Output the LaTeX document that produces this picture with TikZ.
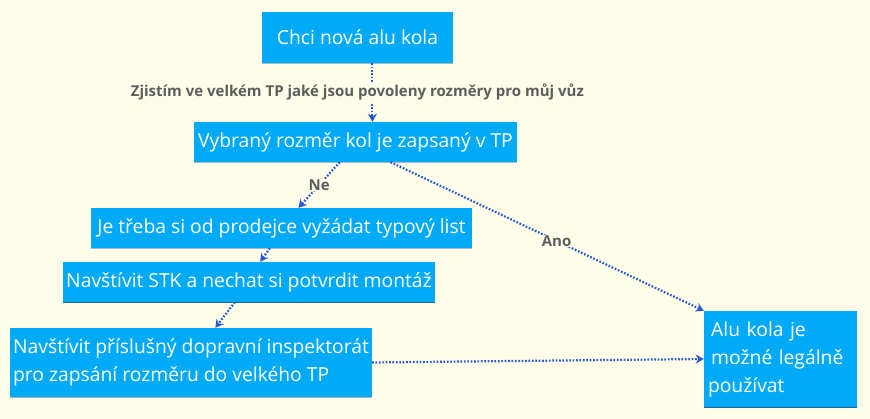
\documentclass[tikz,border=0pt]{standalone}
\usepackage{fontspec}
\setmainfont{Open Sans}
\usetikzlibrary{arrows.meta}
\definecolor{bgyellow}{HTML}{FDFDE9}
\definecolor{boxblue}{HTML}{00AAF7}
\definecolor{arrowblue}{HTML}{2A5BD7}
\definecolor{labelgray}{HTML}{5E5E5E}
\definecolor{edgelight}{HTML}{A0BCC8}
\definecolor{edgedark}{HTML}{1D6A8C}

\begin{document}
\begin{tikzpicture}[x=1pt, y=1pt, >={Stealth[length=8pt, width=9pt, inset=2.5pt]},
  box/.style={fill=boxblue, text=white, inner ysep=0pt, inner xsep=3pt,
    font=\fontsize{19.3}{28}\selectfont},
  flow/.style={->, arrowblue, line width=2.2pt, dash pattern=on 1.7pt off 1.7pt},
  lbl/.style={text=labelgray, font=\fontsize{15}{18}\selectfont\bfseries,
    fill=bgyellow, inner sep=1pt}]
  \def\W{870}
  \def\H{419}

  \fill[bgyellow] (0,0) rectangle (\W,\H);

  % steps
  \node[box, minimum width=191, minimum height=51] (chci) at (357.5,381.5) {Chci nová alu kola};
  \node[box, minimum width=323, minimum height=40] (rozmer) at (355.5,277) {Vybraný rozměr kol je zapsaný v TP};
  \node[box, minimum width=381, minimum height=40] (typlist) at (281.5,191) {Je třeba si od prodejce vyžádat typový list};
  \node[box, minimum width=372, minimum height=40] (stk) at (249,137) {Navštívit STK a nechat si potvrdit montáž};
  \node[box, minimum width=358, minimum height=69, align=left] (inspekt) at (191,56.5)
    {Navštívit příslušný dopravní inspektorát\\pro zapsání rozměru do velkého TP};
  \node[box, text width=145, inner xsep=4pt, minimum height=96, align=left] (legal) at (780.5,60)
    {\,Alu kola je\\\,možné legálně\\používat};

  % bottom edges
  \foreach \n in {chci, rozmer, typlist, inspekt} {
    \draw[edgelight, line width=1pt] (\n.south west) -- (\n.south east);
  }
  \foreach \n in {stk, legal} {
    \draw[edgedark, line width=1pt] (\n.south west) -- (\n.south east);
  }

  % arrows
  \draw[flow] (chci.-60) -- (chci.-60 |- rozmer.north)
    node[lbl, midway, xshift=-15] {Zjistím ve velkém TP jaké jsou povoleny rozměry pro můj vůz};
  \draw[flow] (rozmer.-128) -- (typlist.50) node[lbl, midway] {Ne};
  \draw[flow] (rozmer.-30) -- (legal.north west) node[lbl, pos=0.53] {Ano};
  \draw[flow] (typlist.-120) -- (stk.61);
  \draw[flow] (stk.-125) -- (inspekt.55);
  \draw[flow] (inspekt.east) -- (legal.west);
\end{tikzpicture}
\end{document}
